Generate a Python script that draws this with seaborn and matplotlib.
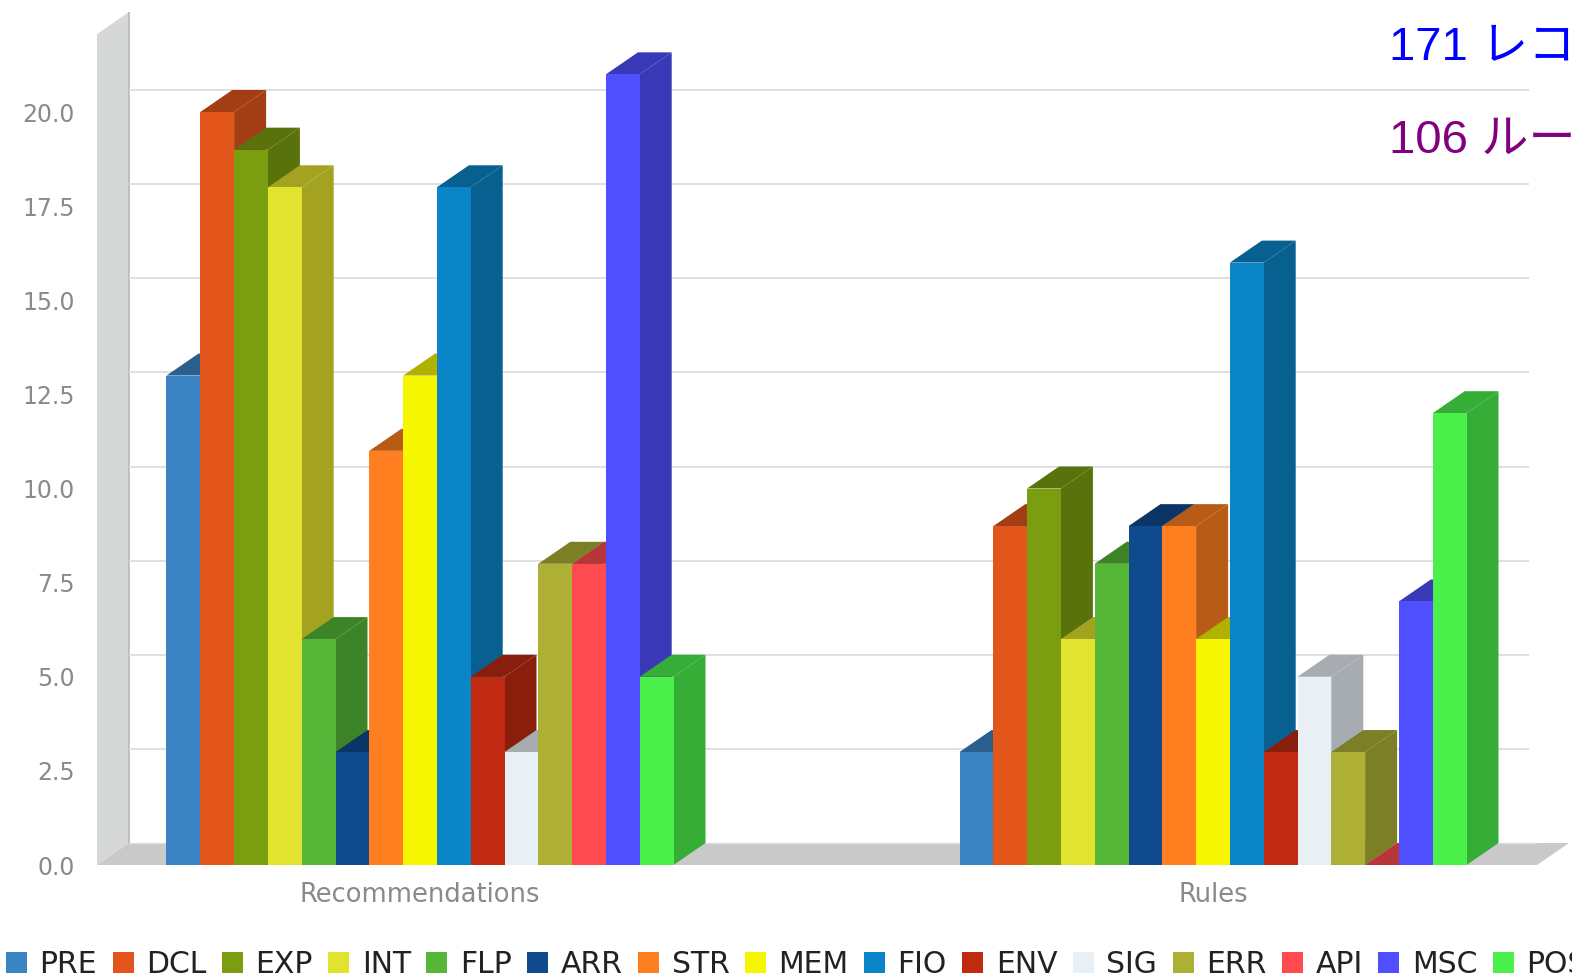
import matplotlib
matplotlib.use("Agg")
import matplotlib.pyplot as plt
from matplotlib.colors import to_rgb
from matplotlib.patches import Patch, Polygon
import pandas as pd
import seaborn as sns

# Issue counts per CERT coding-standard section
groups = ["Recommendations", "Rules"]
sections = ["PRE", "DCL", "EXP", "INT", "FLP", "ARR", "STR", "MEM",
            "FIO", "ENV", "SIG", "ERR", "API", "MSC", "POS"]
recommendations = [13, 20, 19, 18, 6, 3, 11, 13, 18, 5, 3, 8, 8, 21, 5]
rules = [3, 9, 10, 6, 8, 9, 9, 6, 16, 3, 5, 3, 0, 7, 12]
colors = ["#3a84c4", "#e2551b", "#7b9e10", "#e2e32e", "#55b637",
          "#0f4a8f", "#ff7f20", "#f6f600", "#0a86c8", "#c02a10",
          "#e8eff5", "#adb035", "#ff4a4f", "#4f4fff", "#4bf04b"]
y_ticks = [0, 2.5, 5, 7.5, 10, 12.5, 15, 17.5, 20]
counts = ["171 レコメンデーション", "106 ルール"]

W, H = 1572, 980
PX_X = 793.0          # pixels per category
PX_Y = 37.65          # pixels per count
BASE_Y = 865          # pixel row of the zero line
DEPTH_X = 32 / PX_X   # extrusion of the pseudo-3D boxes, data units
DEPTH_Y = 22 / PX_Y

sns.set_theme(style="white")
plt.rcParams["font.family"] = ["DejaVu Sans"]

frame = pd.DataFrame({
    "group": [g for g in groups for _ in sections],
    "section": sections * 2,
    "count": recommendations + rules,
})

fig = plt.figure(figsize=(W / 100, H / 100), dpi=100, facecolor="white")
ax = fig.add_axes([97 / W, 1 - BASE_Y / H, (1537 - 97) / W, (BASE_Y - 12) / H])

sns.barplot(data=frame, x="group", y="count", hue="section", order=groups,
            hue_order=sections, palette=colors, width=507 / PX_X, gap=0,
            saturation=1, linewidth=0, errorbar=None, legend=False, ax=ax)

x0 = (97 - 420) / PX_X
x1 = (1537 - 420) / PX_X
y1 = (BASE_Y - 12) / PX_Y
ax.set_xlim(x0, x1)
ax.set_ylim(0, y1)

# Back wall, floor and grid lines sit one extrusion behind the bars
wall = [(x0, 0), (x0 + DEPTH_X, DEPTH_Y), (x0 + DEPTH_X, y1), (x0, y1 - DEPTH_Y)]
floor = [(x0, 0), (x0 + DEPTH_X, DEPTH_Y), (x1 + DEPTH_X, DEPTH_Y), (x1, 0)]
ax.add_patch(Polygon(wall, closed=True, fc="#d6d8d8", ec="none", zorder=1, clip_on=False))
ax.add_patch(Polygon(floor, closed=True, fc="#c9c9c9", ec="none", zorder=1, clip_on=False))
ax.plot([x0 + DEPTH_X] * 2, [DEPTH_Y, y1], color="#b4b8b8", lw=1.2, zorder=1.1)
ax.hlines([t + DEPTH_Y for t in y_ticks[1:]], x0 + DEPTH_X, x1 - 8 / PX_X,
          color="#dfe0e3", lw=1.4, zorder=1.1)
ax.plot([x0 + DEPTH_X, x1 + DEPTH_X], [DEPTH_Y, DEPTH_Y], color="#dddddd", lw=1, zorder=1.1)


def shade(color, factor=0.72):
    return tuple(c * factor for c in to_rgb(color))


# Extrude every bar: side and top face are painted just below its front face,
# and each later section stacks above the one before it.
for order, container in enumerate(ax.containers):
    for bar in container:
        left, w, h = bar.get_x(), bar.get_width(), bar.get_height()
        right = left + w
        z = 3 + order * 0.1
        dark = shade(colors[order])
        side = [(right, 0), (right + DEPTH_X, DEPTH_Y),
                (right + DEPTH_X, h + DEPTH_Y), (right, h)]
        top = [(left, h), (left + DEPTH_X, h + DEPTH_Y),
               (right + DEPTH_X, h + DEPTH_Y), (right, h)]
        ax.add_patch(Polygon(side, closed=True, fc=dark, ec="none", zorder=z))
        ax.add_patch(Polygon(top, closed=True, fc=dark, ec="none", zorder=z + 0.01))
        bar.set_zorder(z + 0.02)

sns.despine(ax=ax, left=True, bottom=True, top=True, right=True)
ax.set_xlabel("")
ax.set_ylabel("")
ax.set_yticks(y_ticks)
ax.set_yticklabels([f"{t:.1f}" for t in y_ticks], fontsize=17, color="#8a8a8a")
ax.tick_params(axis="y", length=0, pad=16)
ax.tick_params(axis="x", length=0, pad=12, labelsize=18.5, labelcolor="#8a8a8a")
ax.grid(False)

handles = [Patch(fc=c, ec="none", label=s) for s, c in zip(sections, colors)]
fig.legend(handles=handles, loc="lower left", bbox_to_anchor=(6 / W, 1 - 979 / H),
           ncol=len(sections), frameon=False, fontsize=21.5, borderpad=0,
           borderaxespad=0, handlelength=0.7, handleheight=0.7, handletextpad=0.42,
           columnspacing=0.52, labelcolor="#222222")

cjk = ["Liberation Sans", "Noto Sans CJK JP"]
fig.text(1389 / W, 1 - 60 / H, counts[0], color="#0000ff", fontsize=34,
         family=cjk, va="baseline", ha="left")
fig.text(1389 / W, 1 - 153 / H, counts[1], color="#800080", fontsize=34,
         family=cjk, va="baseline", ha="left")

fig.savefig("out.png", dpi=100, facecolor="white")
